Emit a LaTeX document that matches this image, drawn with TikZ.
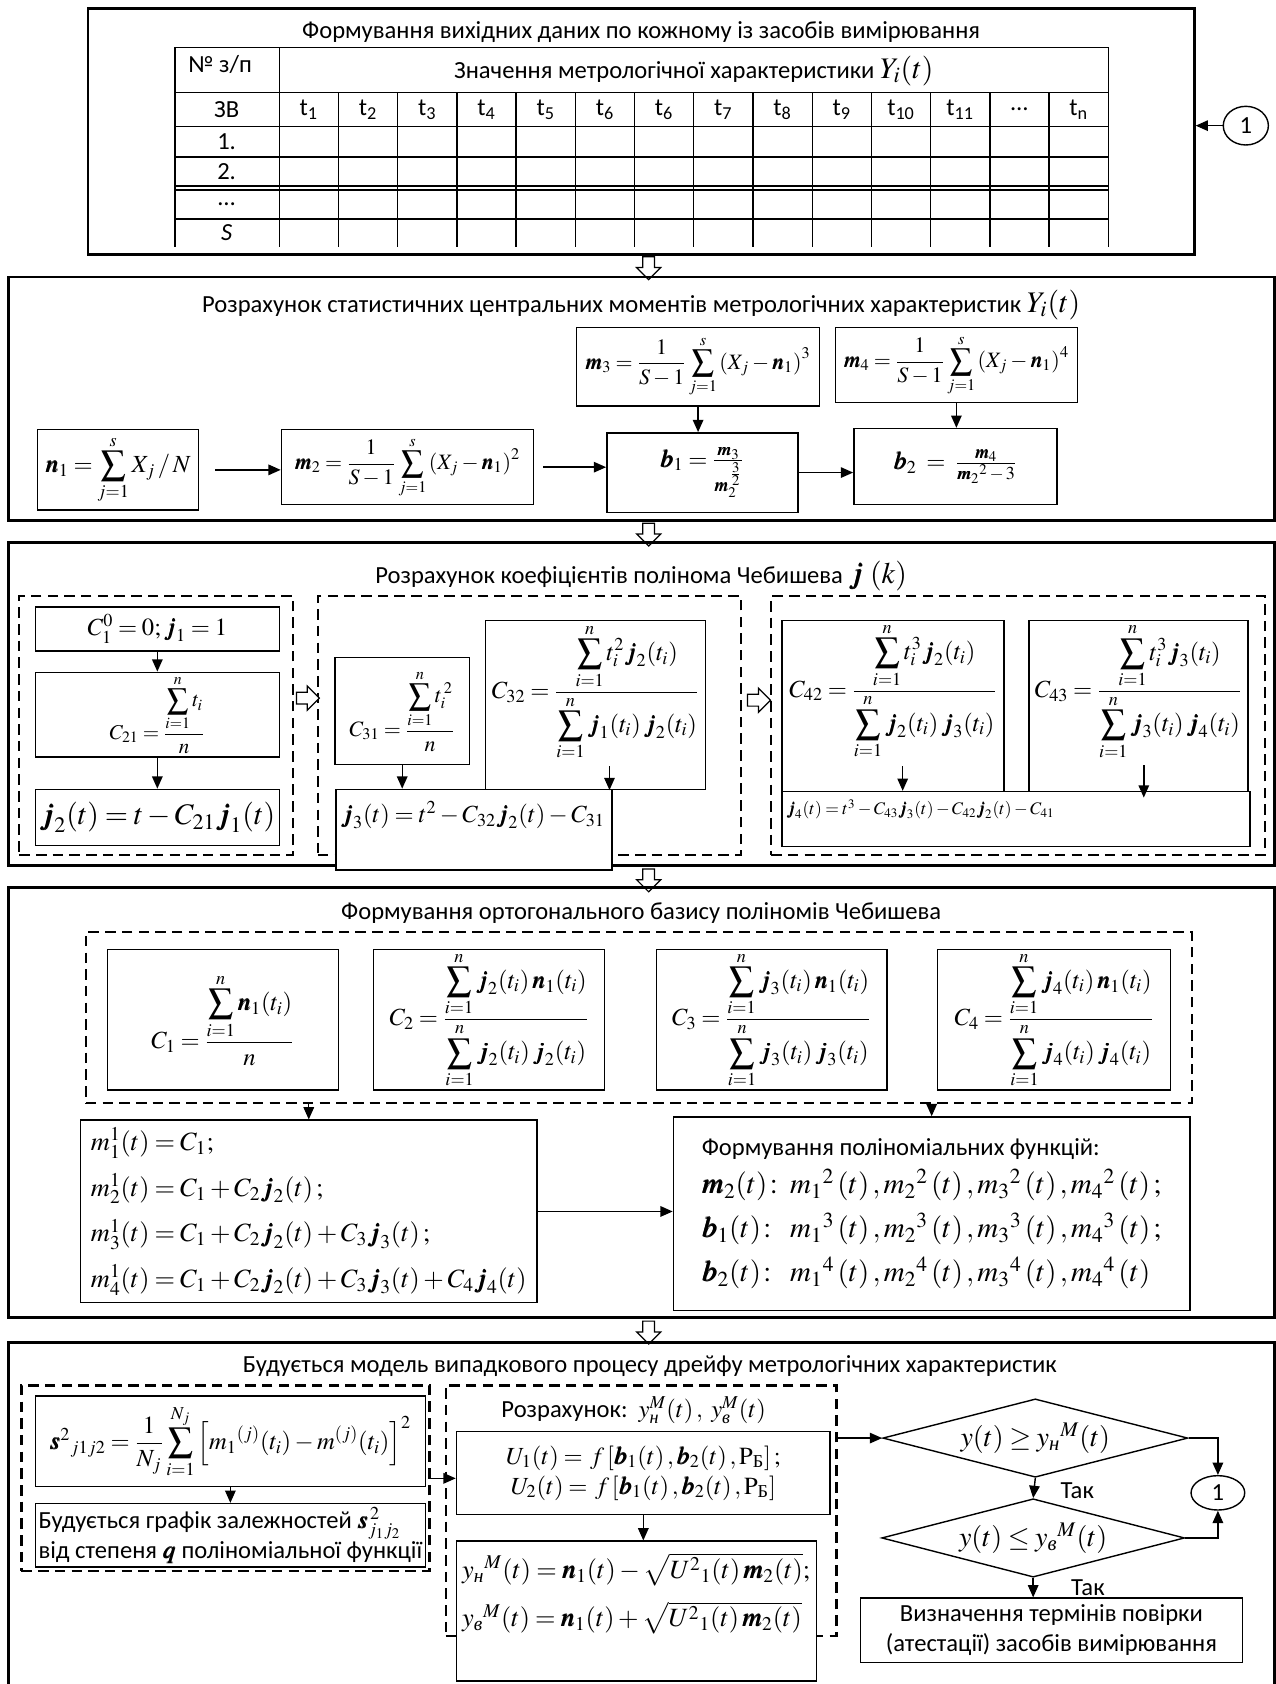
\documentclass[tikz,border=0pt]{standalone}
\usepackage{amsmath}
\usepackage{mathptmx}
\usepackage{bm}
\usepackage[no-math]{fontspec}
\setmainfont{Carlito}
\newfontfamily\cyrser{Liberation Serif}
\usetikzlibrary{arrows.meta, fit, calc, positioning, shapes.geometric, shapes.arrows}

\newcommand{\pu}{0.02148cm}
\newcommand{\fbig}{\fontsize{17}{20}\selectfont}
\newcommand{\fsml}{\fontsize{10}{12}\selectfont}
\newcommand{\sN}{\text{\cyrser\itshape н}}
\newcommand{\sV}{\text{\cyrser\itshape в}}
\newcommand{\sB}{\text{\cyrser Б}}
% box from corner (x1,y1) to corner (x2,y2)
\newcommand{\bx}[7][]{%
  \node[blk, minimum width={(#5-#3)*\pu}, minimum height={(#6-#4)*\pu}, #1]
    (#2) at ({(#3+#5)/2},{(#4+#6)/2}) {#7};}
\medmuskip=2.5mu plus 1mu minus 2mu
\thickmuskip=3.5mu plus 2mu

\tikzset{
  stage/.style={draw, line width=1.6pt, inner sep=0pt},
  blk/.style={draw, line width=0.8pt, fill=white, inner sep=0pt, align=center},
  grp/.style={draw, line width=1.3pt, dash pattern=on 6pt off 3.5pt, inner sep=0pt},
  tbl/.style={line width=0.8pt},
  arr/.style={-{Triangle[length=7pt,width=6pt]}, line width=0.8pt},
  hol/.style={single arrow, draw, line width=0.7pt, fill=white, inner sep=3pt,
    minimum height=13pt, single arrow head extend=3.5pt, single arrow head indent=0pt},
  dia/.style={diamond, draw, line width=0.8pt, aspect=4, inner sep=0pt},
  txt/.style={inner sep=1pt},
  smf/.style={font=\fontsize{12.5}{15}\selectfont},
}

\begin{document}
\begin{tikzpicture}[x=0.02148cm, y=-0.02148cm,
  every node/.append style={font=\fontsize{14}{17}\selectfont}]
\useasboundingbox (0,0) rectangle (1188,1568);

% 1: input data
\node[stage, fit={(82,8) (1112,237)}] (s1) {};
\node[txt] (s1t) at (597,30) {Формування вихідних даних по кожному із засобів вимірювання};
\foreach \y in {44,86,118,146,173,177,204} \draw[tbl] (163,\y) -- (1032,\y);
\foreach \x in {163,260,1032} \draw[tbl] (\x,44) -- (\x,230);
\foreach \k in {1,...,13} \draw[tbl] (260+55.14*\k,86) -- (260+55.14*\k,230);
\node[txt] (nz) at (205,60) {№ з/п};
\node[txt] (hdr) at (646,66) {Значення метрологічної характеристики {\fbig$Y_i\!\left(t\right)$}};
\foreach \lab/\y [count=\r] in {ЗВ/102, 1./132, 2./160, \dots/190, \textit{S}/217}
  \node[txt] (row\r) at (211,\y) {\lab};
\foreach \lab [count=\k] in {t\textsubscript{1},t\textsubscript{2},t\textsubscript{3},t\textsubscript{4},
    t\textsubscript{5},t\textsubscript{6},t\textsubscript{6},t\textsubscript{7},t\textsubscript{8},
    t\textsubscript{9},t\textsubscript{10},t\textsubscript{11},\dots,t\textsubscript{n}}
  \node[txt] (t\k) at (232.43+55.14*\k,102) {\lab};
\node[draw, ellipse, line width=0.8pt, minimum width=42*\pu, minimum height=36*\pu, inner sep=0pt] (one) at (1160,117) {1};
\draw[arr] (one) -- (one -| s1.east);
\node[hol, shape border rotate=270] (h1) at (604,247) {};

% 2: central moments
\node[stage, fit={(8,258) (1187,485)}] (s2) {};
\node[txt] (s2t) at (597,284) {Розрахунок статистичних центральних моментів метрологічних характеристик {\fbig$Y_i\!\left(t\right)$}};
\bx[smf]{m3}{537}{305}{763}{378}{$\bm{m}_3=\dfrac{1}{S-1}\displaystyle\sum_{j=1}^{s}\left(X_j-\bm{n}_1\right)^3$}
\bx[smf]{m4}{778}{305}{1003}{375}{$\bm{m}_4=\dfrac{1}{S-1}\displaystyle\sum_{j=1}^{s}\left(X_j-\bm{n}_1\right)^4$}
\bx{n1}{35}{400}{185}{475}{$\bm{n}_1=\displaystyle\sum_{j=1}^{s}X_j\,/\,N$}
\bx[smf]{m2}{262}{400}{497}{470}{$\bm{m}_2=\dfrac{1}{S-1}\displaystyle\sum_{j=1}^{s}\left(X_j-\bm{n}_1\right)^2$}
\bx{b1}{565}{403}{743}{477}{$\bm{b}_1=\frac{\bm{m}_3}{\bm{m}_2^{\,\frac{3}{2}}}$}
\bx{b2}{795}{399}{984}{470}{$\bm{b}_2\;=\;\frac{\bm{m}_4}{\bm{m}_2{}^2\,-\,3}$}
\draw[arr, shorten <=9pt] (n1.east) -- (n1.east -| m2.west);
\draw[arr, shorten <=5pt] (m2.east) -- (m2.east -| b1.west);
\draw[arr] (b1.east) -- (b1.east -| b2.west);
\draw[arr] (m3.south) -- (m3.south |- b1.north);
\draw[arr] (m4.south) -- (m4.south |- b2.north);
\node[hol, shape border rotate=270] (h2) at (604,495) {};

% 3: Chebyshev coefficients
\node[stage, fit={(8,505) (1187,806)}] (s3) {};
\node[txt] (s3t) at (597,536) {Розрахунок коефіцієнтів полінома Чебишева {\fbig$\bm{j}\,\left(k\right)$}};
\node[grp, fit={(18,555) (273,796)}] (g1) {};
\node[grp, fit={(296,555) (690,796)}] (g2) {};
\node[grp, fit={(718,555) (1178,796)}] (g3) {};
\bx{c10}{33}{565}{260}{606}{$C_1^0=0;\bm{j}_1=1$}
\bx[font=\fontsize{12}{14}\selectfont]{c21}{33}{626}{260}{705}{$C_{21}=\dfrac{\displaystyle\sum_{i=1}^{n}t_i}{n}$}
\bx[font=\fbig]{p2}{33}{735}{260}{787}{$\bm{j}_2\!\left(t\right)=t-C_{21}\bm{j}_1\!\left(t\right)$}
\draw[arr] (c10.south) -- (c21.north);
\draw[arr] (c21.south) -- (p2.north);
\node[hol] (h5) at (284,650) {};
\bx[smf]{c31}{312}{612}{437}{712}{$C_{31}=\dfrac{\displaystyle\sum_{i=1}^{n}t_i^{\,2}}{n}$}
\bx{c32}{452}{578}{657}{735}{}
\node[txt] (c32t) at ([shift={(0,-12)}]c32.center) {$C_{32}=\dfrac{\displaystyle\sum_{i=1}^{n}t_i^2\bm{j}_2\!\left(t_i\right)}{\displaystyle\sum_{i=1}^{n}\bm{j}_1\!\left(t_i\right)\bm{j}_2\!\left(t_i\right)}$};
\bx{p3}{313}{735}{570}{810}{}
\node[txt, anchor=north west, font=\fontsize{14}{17}\selectfont] (p3t) at ([shift={(3,10)}]p3.north west) {$\bm{j}_3\!\left(t\right)=t^2-C_{32}\bm{j}_2\!\left(t\right)-C_{31}$};
\draw[arr] (c31.south) -- (c31.south |- p3.north);
\coordinate (c32a) at ([shift={(13,-22)}]c32.south);
\draw[arr] (c32a) -- (c32a |- c32.south);
\node[hol] (h6) at (704,652) {};
\bx{c42}{728}{578}{935}{737}{}
\node[txt] (c42t) at ([shift={(0,-14)}]c42.center) {$C_{42}=\dfrac{\displaystyle\sum_{i=1}^{n}t_i^3\bm{j}_2\!\left(t_i\right)}{\displaystyle\sum_{i=1}^{n}\bm{j}_2\!\left(t_i\right)\bm{j}_3\!\left(t_i\right)}$};
\bx{c43}{958}{578}{1162}{742}{}
\node[txt] (c43t) at ([shift={(0,-16)}]c43.center) {$C_{43}=\dfrac{\displaystyle\sum_{i=1}^{n}t_i^3\bm{j}_3\!\left(t_i\right)}{\displaystyle\sum_{i=1}^{n}\bm{j}_3\!\left(t_i\right)\bm{j}_4\!\left(t_i\right)}$};
\bx{p4}{728}{737}{1164}{788}{}
\node[txt, anchor=north west, font=\fsml] (p4t) at ([shift={(3,6)}]p4.north west) {$\bm{j}_4\!\left(t\right)=t^3-C_{43}\bm{j}_3\!\left(t\right)-C_{42}\bm{j}_2\!\left(t\right)-C_{41}$};
\coordinate (c42a) at ([shift={(9,-24)}]c42.south);
\draw[arr] (c42a) -- (c42a |- p4.north);
\coordinate (c43a) at ([shift={(5,-30)}]c43.south);
\draw[arr] (c43a) -- (c43a |- c43.south);
\node[hol, shape border rotate=270] (h3) at (604,817) {};

% 4: orthogonal basis
\node[stage, fit={(8,826) (1187,1227)}] (s4) {};
\node[txt] (s4t) at (597,850) {Формування ортогонального базису поліномів Чебишева};
\node[grp, fit={(80,868) (1110,1027)}] (g4) {};
\bx{k1}{100}{884}{315}{1015}{$C_1=\dfrac{\displaystyle\sum_{i=1}^{n}\bm{n}_1\!\left(t_i\right)}{n}$}
\bx{k2}{348}{884}{563}{1015}{$C_2=\dfrac{\displaystyle\sum_{i=1}^{n}\bm{j}_2\!\left(t_i\right)\bm{n}_1\!\left(t_i\right)}{\displaystyle\sum_{i=1}^{n}\bm{j}_2\!\left(t_i\right)\bm{j}_2\!\left(t_i\right)}$}
\bx{k3}{611}{884}{826}{1015}{$C_3=\dfrac{\displaystyle\sum_{i=1}^{n}\bm{j}_3\!\left(t_i\right)\bm{n}_1\!\left(t_i\right)}{\displaystyle\sum_{i=1}^{n}\bm{j}_3\!\left(t_i\right)\bm{j}_3\!\left(t_i\right)}$}
\bx{k4}{873}{884}{1090}{1015}{$C_4=\dfrac{\displaystyle\sum_{i=1}^{n}\bm{j}_4\!\left(t_i\right)\bm{n}_1\!\left(t_i\right)}{\displaystyle\sum_{i=1}^{n}\bm{j}_4\!\left(t_i\right)\bm{j}_4\!\left(t_i\right)}$}
\bx[align=left, font=\fontsize{15}{18}\selectfont]{mu}{75}{1043}{500}{1213}{%
  $m_1^1\!\left(t\right)=C_1;$\\[8pt]
  $m_2^1\!\left(t\right)=C_1+C_2\bm{j}_2\!\left(t\right);$\\[8pt]
  $m_3^1\!\left(t\right)=C_1+C_2\bm{j}_2\!\left(t\right)+C_3\bm{j}_3\!\left(t\right);$\\[8pt]
  $m_4^1\!\left(t\right)=C_1+C_2\bm{j}_2\!\left(t\right)+C_3\bm{j}_3\!\left(t\right)+C_4\bm{j}_4\!\left(t\right)$}
\bx[align=left, font=\fontsize{16.5}{19}\selectfont]{poly}{627}{1040}{1108}{1220}{%
  {\fontsize{14}{17}\selectfont Формування поліноміальних функцій:}\\[3pt]
  $\bm{m}_2\!\left(t\right)\!:\ m_1{}^2\left(t\right), m_2{}^2\left(t\right), m_3{}^2\left(t\right), m_4{}^2\left(t\right);$\\[6pt]
  $\bm{b}_1\!\left(t\right)\!:\ \ m_1{}^3\left(t\right), m_2{}^3\left(t\right), m_3{}^3\left(t\right), m_4{}^3\left(t\right);$\\[6pt]
  $\bm{b}_2\!\left(t\right)\!:\ \ m_1{}^4\left(t\right), m_2{}^4\left(t\right), m_3{}^4\left(t\right), m_4{}^4\left(t\right)$}
\draw[arr] (g4.south -| mu.north) -- (mu.north);
\draw[arr] (g4.south -| poly.north) -- (poly.north);
\draw[arr] (mu.east) -- (mu.east -| poly.west);
\node[hol, shape border rotate=270] (h4) at (604,1238) {};

% 5: drift model
\draw[line width=1.6pt] (8,1568) |- (1187,1250) -- (1187,1568);
\node[txt] (s5t) at (605,1272) {Будується модель випадкового процесу дрейфу метрологічних характеристик};
\node[grp, fit={(20,1290) (400,1463)}] (gA) {};
\node[grp, fit={(415,1290) (779,1523)}] (gB) {};
\bx[font=\fontsize{14}{17}\selectfont]{sig}{33}{1300}{396}{1384}{$\bm{s}^2{}_{j1j2}=\dfrac{1}{N_j}\displaystyle\sum_{i=1}^{N_j}\left[m_1{}^{(j)}\!\left(t_i\right)-m^{(j)}\!\left(t_i\right)\right]^2$}
\bx[align=left]{gra}{33}{1400}{396}{1459}{Будується графік залежностей $\bm{s}^{\,2}_{j_1j_2}$\\від степеня $\bm{q}$ поліноміальної функції}
\draw[arr] (sig.south) -- (gra.north);
\node[txt] (rz) at (590,1313) {Розрахунок:\ \ $y_{\sN}^{M}\!\left(t\right),\ y_{\sV}^{M}\!\left(t\right)$};
\bx{U}{425}{1333}{773}{1410}{$U_1\!\left(t\right)=\,f\left[\bm{b}_1\!\left(t\right),\bm{b}_2\!\left(t\right),\mathrm{P}_{\sB}\right];$\\$U_2\!\left(t\right)=\,f\left[\bm{b}_1\!\left(t\right),\bm{b}_2\!\left(t\right),\mathrm{P}_{\sB}\right]$}
\bx{Y}{425}{1435}{760}{1565}{}
\node[txt, anchor=north west, align=left, font=\fontsize{15}{18}\selectfont] (Yt) at ([shift={(4,10)}]Y.north west) {%
  $y_{\sN}{}^{M}\!\left(t\right)=\bm{n}_1\!\left(t\right)-\sqrt{U^2{}_1\!\left(t\right)\bm{m}_2\!\left(t\right)};$\\[8pt]
  $y_{\sV}{}^{M}\!\left(t\right)=\bm{n}_1\!\left(t\right)+\sqrt{U^2{}_1\!\left(t\right)\bm{m}_2\!\left(t\right)}$};
\draw[arr] (gA.east) -- (gA.east -| U.west);
\draw[arr] (U.south) -- (U.south |- Y.north);
\node[dia, minimum width=284*\pu, minimum height=73*\pu, font=\fontsize{16}{19}\selectfont] (d1) at (964,1339) {$y(t)\geq y_{\sN}{}^{M}\!\left(t\right)$};
\node[dia, minimum width=282*\pu, minimum height=73*\pu, font=\fontsize{16}{19}\selectfont] (d2) at (962,1432) {$y(t)\leq y_{\sV}{}^{M}\!\left(t\right)$};
\node[draw, ellipse, line width=0.8pt, minimum width=50*\pu, minimum height=32*\pu, inner sep=0pt] (back) at (1134,1390) {1};
\bx{fin}{801}{1488}{1157}{1548}{Визначення термінів повірки\\(атестації) засобів вимірювання}
\node[txt] (tak1) at (1003,1388) {Так};
\node[txt] (tak2) at (1013,1478) {Так};
\draw[arr] (d1.west -| gB.east) -- (d1.west);
\draw[arr] (d1.south) -- (d2.north);
\draw[arr] (d1.east) -| (back.north);
\draw[arr] (d2.east) -| (back.south);
\draw[arr] (d2.south) -- (d2.south |- fin.north);
\end{tikzpicture}
\end{document}
